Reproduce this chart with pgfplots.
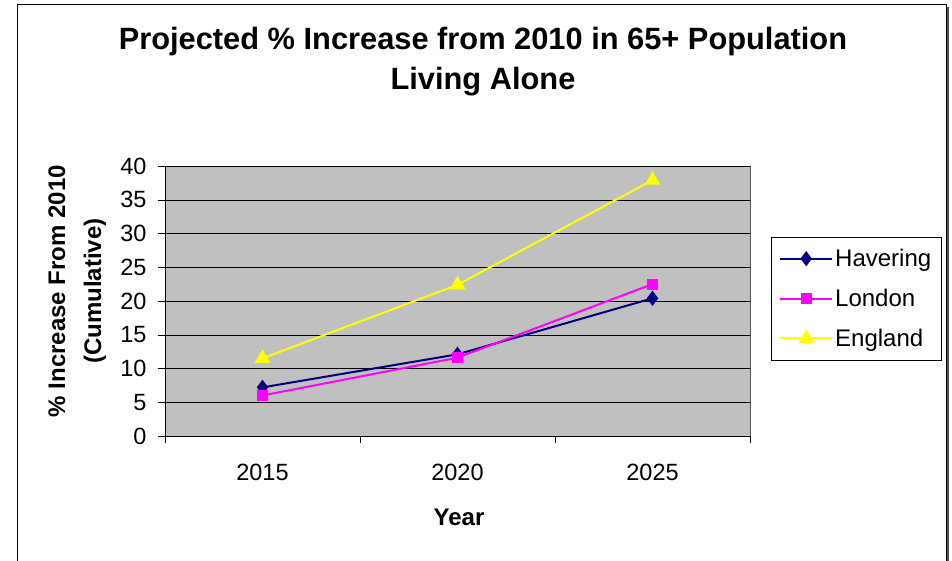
\documentclass[border=0pt]{standalone}
\usepackage{pgfplots}
\pgfplotsset{compat=1.18}
\usepackage{fontspec}
\setmainfont{Liberation Sans}

\definecolor{plotgray}{RGB}{192,192,192}
\definecolor{havering}{RGB}{0,0,128}
\definecolor{london}{RGB}{255,0,255}
\definecolor{england}{RGB}{255,255,0}

\begin{document}
\begin{tikzpicture}
	\useasboundingbox (0,0) rectangle (952pt,561pt);
	% outer chart frame (bottom edge runs off the picture)
	\draw[line width=1pt] (17pt,-20pt) rectangle (946pt,556pt);
	\draw[line width=2pt, gray!60!black] (948pt,-20pt) -- (948pt,554pt);

	\begin{axis}[
			at={(165pt,125pt)}, anchor=origin,
			scale only axis,
			width=585pt,
			height=270pt,
			xmin=0.5, xmax=3.5,
			ymin=0, ymax=40,
			xtick={1,2,3},
			xticklabels={2015,2020,2025},
			minor xtick={0.5,1.5,2.5,3.5},
			ytick={0,5,...,40},
			tick align=outside,
			major x tick style={draw=none},
			minor tick length=7pt,
			major tick length=7pt,
			tick style={black, thin},
			axis lines*=left,
			axis line style={black, thin},
			axis background/.style={fill=plotgray, draw=gray!70!black},
			ymajorgrids,
			grid style={black, thin},
			ticklabel style={font=\fontsize{23.5}{28}\selectfont},
			/pgf/number format/assume math mode=true,
			yticklabel style={xshift=-8pt},
			xticklabel style={yshift=-18pt},
			title={Projected \% Increase from 2010 in 65+ Population\\Living Alone},
			title style={at={(axis description cs:0.5436,1.363)}, anchor=center,
				align=center, font=\fontsize{30.8}{40}\selectfont\bfseries},
			xlabel={Year},
			xlabel style={at={(axis description cs:0.5026,-0.30)}, anchor=center,
				font=\fontsize{24}{30}\selectfont\bfseries},
			ylabel={\% Increase From 2010\\(Cumulative)},
			ylabel style={at={(axis description cs:-0.1500,0.537)}, anchor=center,
				rotate=0, align=center, font=\fontsize{24}{36}\selectfont\bfseries},
			legend style={at={(axis description cs:1.0359,0.737)}, anchor=north west,
				draw=black, thin, font=\fontsize{24}{28}\selectfont,
				inner xsep=8pt, inner ysep=10pt, row sep=17pt,
				legend cell align=left},
			legend image code/.code={
				\draw[mark repeat=2, mark phase=2]
				plot coordinates {(0pt,0pt) (26pt,0pt) (52pt,0pt)};},
		]

		\addplot[havering, line width=2pt, mark=diamond*, mark size=6pt,
			mark options={solid}] coordinates {
			(1,7.2) (2,12.1) (3,20.4)
		};
		\addlegendentry{Havering}

		\addplot[london, line width=2pt, mark=square*, mark size=4.5pt] coordinates {
			(1,6.0) (2,11.6) (3,22.5)
		};
		\addlegendentry{London}

		\addplot[england, line width=2pt, mark=triangle*, mark size=7pt] coordinates {
			(1,11.5) (2,22.4) (3,37.9)
		};
		\addlegendentry{England}
	\end{axis}
\end{tikzpicture}
\end{document}
